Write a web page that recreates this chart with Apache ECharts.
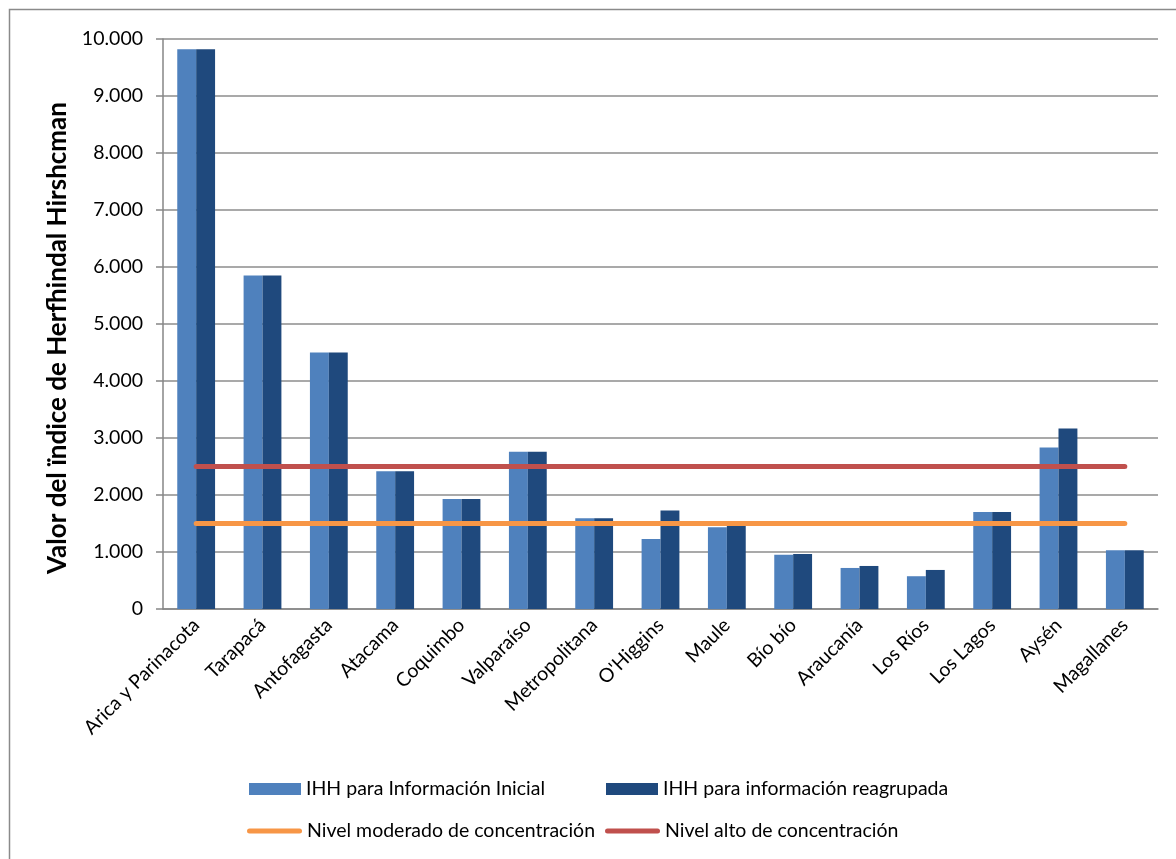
<!DOCTYPE html>
<html>
<head>
<meta charset="utf-8">
<script src="https://cdn.jsdelivr.net/npm/echarts@6/dist/echarts.min.js"></script>
<style>
  html, body { margin: 0; padding: 0; background: #fff; }
  #main { width: 1176px; height: 859px; }
</style>
</head>
<body>
<div id="main"></div>
<script>
// regiones
var regiones = ['Arica y Parinacota', 'Tarapacá', 'Antofagasta', 'Atacama', 'Coquimbo', 'Valparaíso',
    'Metropolitana', "O'Higgins", 'Maule', 'Bío bío', 'Araucanía', 'Los Ríos', 'Los Lagos', 'Aysén', 'Magallanes'];

// IHH por region
var ihhInicial = [9820, 5850, 4500, 2415, 1930, 2760, 1590, 1230, 1435, 950, 720, 575, 1700, 2835, 1030];
var ihhReagrupada = [9820, 5850, 4500, 2415, 1930, 2760, 1590, 1730, 1470, 965, 755, 685, 1700, 3165, 1030];

// niveles de referencia
var nivelModerado = [1500, 1500, 1500, 1500, 1500, 1500, 1500, 1500, 1500, 1500, 1500, 1500, 1500, 1500, 1500];
var nivelAlto = [2500, 2500, 2500, 2500, 2500, 2500, 2500, 2500, 2500, 2500, 2500, 2500, 2500, 2500, 2500];

var yTicks = [0, 1000, 2000, 3000, 4000, 5000, 6000, 7000, 8000, 9000, 10000];

var fuente = 'Lato, "Liberation Sans", sans-serif';

var myChart = echarts.init(document.getElementById('main'));

var leyendaTexto = { color: '#000', fontSize: 19.5, fontFamily: fuente };
// icono de linea con extremos redondeados
var iconoLinea = 'path://M2.5,0 L52.5,0 A2.5,2.5 0 0 1 52.5,5 L2.5,5 A2.5,2.5 0 0 1 2.5,0 Z';

var option = {
    animation: false,
    backgroundColor: '#fff',
    graphic: [{
        type: 'rect',
        shape: { x: 9.5, y: 9.5, width: 1300, height: 1000 },
        style: { fill: 'none', stroke: '#8a8a8a', lineWidth: 1.5 },
        silent: true
    }],
    grid: { left: 163, right: 18, top: 39, bottom: 250, containLabel: false },
    legend: [
        { left: 249, top: 779, padding: 0, data: ['IHH para Información Inicial'], itemWidth: 52, itemHeight: 12, textStyle: leyendaTexto, icon: 'rect' },
        { left: 606, top: 779, padding: 0, data: ['IHH para información reagrupada'], itemWidth: 52, itemHeight: 12, textStyle: leyendaTexto, icon: 'rect' },
        { left: 247, top: 821, padding: 0, data: ['Nivel moderado de concentración'], itemWidth: 55, itemHeight: 5, textStyle: leyendaTexto, icon: iconoLinea },
        { left: 605, top: 821, padding: 0, data: ['Nivel alto de concentración'], itemWidth: 55, itemHeight: 5, textStyle: leyendaTexto, icon: iconoLinea }
    ],
    xAxis: {
        type: 'category',
        data: regiones,
        axisLine: { lineStyle: { color: '#868686', width: 1.5 } },
        axisTick: { show: false },
        axisLabel: { rotate: 45, interval: 0, margin: 13, color: '#000', fontSize: 19.5, fontFamily: fuente }
    },
    yAxis: {
        type: 'value',
        min: 0,
        max: 10000,
        interval: 1000,
        name: 'Valor del ïndice de Herfhindal Hirshcman',
        nameLocation: 'middle',
        nameRotate: 90,
        nameGap: 90,
        nameTextStyle: { color: '#000', fontSize: 26, fontWeight: 'bold', fontFamily: fuente, padding: [0, 28, 0, 0] },
        axisLine: { show: true, lineStyle: { color: '#868686', width: 1.5 } },
        axisTick: { show: true, length: 7, lineStyle: { color: '#868686', width: 1.5 } },
        axisLabel: {
            color: '#000', fontSize: 19.5, fontFamily: fuente, margin: 20,
            formatter: function (v) {
                return yTicks.indexOf(v) >= 0 ? String(v).replace(/\B(?=(\d{3})+(?!\d))/g, '.') : '';
            }
        },
        splitLine: { lineStyle: { color: '#8c8c8c', width: 1.5 } }
    },
    series: [
        {
            name: 'IHH para Información Inicial',
            type: 'bar',
            data: ihhInicial,
            barGap: '0%',
            barCategoryGap: '43%',
            itemStyle: { color: '#4F81BD' }
        },
        {
            name: 'IHH para información reagrupada',
            type: 'bar',
            data: ihhReagrupada,
            barGap: '0%',
            barCategoryGap: '43%',
            itemStyle: { color: '#1F497D' }
        },
        {
            name: 'Nivel moderado de concentración',
            type: 'line',
            data: nivelModerado,
            symbol: 'none',
            z: 5,
            lineStyle: { color: '#F79646', width: 5, cap: 'round' },
            itemStyle: { color: '#F79646' }
        },
        {
            name: 'Nivel alto de concentración',
            type: 'line',
            data: nivelAlto,
            symbol: 'none',
            z: 5,
            lineStyle: { color: '#C0504D', width: 5, cap: 'round' },
            itemStyle: { color: '#C0504D' }
        }
    ]
};

option && myChart.setOption(option);
</script>
</body>
</html>
